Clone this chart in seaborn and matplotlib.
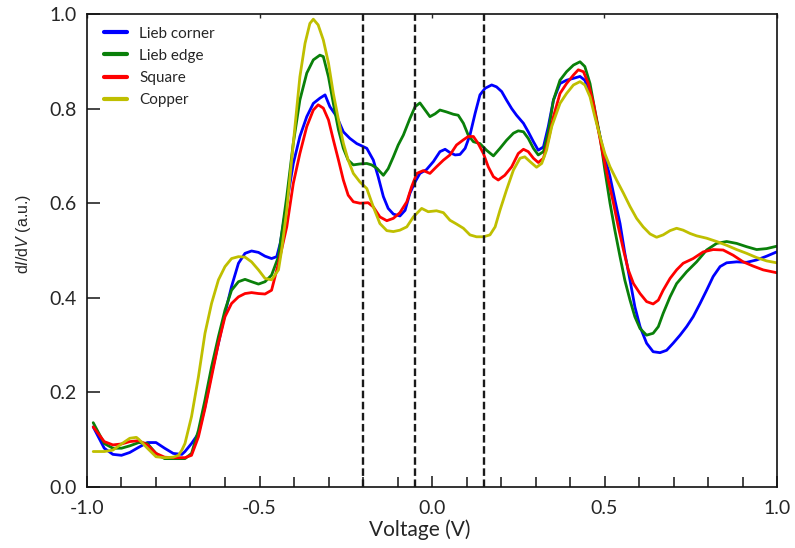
import matplotlib
matplotlib.use("Agg")
import matplotlib.pyplot as plt
from matplotlib.ticker import MultipleLocator
import seaborn as sns
import pandas as pd

# dI/dV spectra for four sites (voltage in V, conductance in a.u.)
lieb_corner_v = [-0.982, -0.950, -0.925, -0.900, -0.876, -0.850, -0.825, -0.800, -0.775, -0.750,
                 -0.725, -0.716, -0.697, -0.677, -0.658, -0.639, -0.619, -0.600, -0.581, -0.561,
                 -0.542, -0.523, -0.503, -0.484, -0.465, -0.450, -0.440, -0.421, -0.402, -0.383,
                 -0.363, -0.344, -0.325, -0.310, -0.296, -0.276, -0.257, -0.238, -0.218, -0.209,
                 -0.189, -0.170, -0.156, -0.141, -0.127, -0.112, -0.093, -0.078, -0.064, -0.049,
                 -0.035, -0.016, 0.004, 0.023, 0.038, 0.052, 0.067, 0.081, 0.096, 0.110,
                 0.125, 0.139, 0.154, 0.173, 0.187, 0.202, 0.216, 0.231, 0.245, 0.265,
                 0.279, 0.294, 0.308, 0.323, 0.337, 0.352, 0.371, 0.390, 0.410, 0.429,
                 0.443, 0.458, 0.472, 0.487, 0.501, 0.516, 0.530, 0.545, 0.559, 0.574,
                 0.588, 0.603, 0.622, 0.641, 0.661, 0.680, 0.699, 0.719, 0.738, 0.757,
                 0.777, 0.796, 0.815, 0.835, 0.854, 0.883, 0.912, 0.941, 0.970, 0.999]
lieb_corner_g = [0.127, 0.082, 0.069, 0.067, 0.073, 0.084, 0.094, 0.094, 0.082, 0.071,
                 0.069, 0.075, 0.092, 0.113, 0.170, 0.240, 0.304, 0.367, 0.424, 0.473,
                 0.494, 0.499, 0.496, 0.488, 0.483, 0.487, 0.515, 0.600, 0.684, 0.741,
                 0.783, 0.811, 0.822, 0.829, 0.804, 0.783, 0.751, 0.737, 0.726, 0.723,
                 0.716, 0.691, 0.656, 0.614, 0.589, 0.577, 0.573, 0.585, 0.621, 0.645,
                 0.663, 0.671, 0.688, 0.709, 0.714, 0.707, 0.702, 0.703, 0.716, 0.744,
                 0.790, 0.829, 0.843, 0.850, 0.846, 0.836, 0.818, 0.800, 0.786, 0.769,
                 0.751, 0.730, 0.712, 0.719, 0.762, 0.818, 0.853, 0.860, 0.864, 0.868,
                 0.860, 0.832, 0.790, 0.741, 0.698, 0.656, 0.607, 0.557, 0.494, 0.437,
                 0.381, 0.339, 0.304, 0.286, 0.284, 0.289, 0.304, 0.321, 0.339, 0.360,
                 0.388, 0.416, 0.445, 0.466, 0.474, 0.476, 0.475, 0.480, 0.488, 0.497]

lieb_edge_v = [-0.982, -0.950, -0.925, -0.900, -0.876, -0.850, -0.825, -0.800, -0.775, -0.750,
               -0.725, -0.716, -0.697, -0.677, -0.658, -0.639, -0.619, -0.600, -0.581, -0.561,
               -0.542, -0.523, -0.503, -0.484, -0.465, -0.445, -0.421, -0.402, -0.383, -0.363,
               -0.344, -0.325, -0.315, -0.300, -0.286, -0.271, -0.257, -0.243, -0.228, -0.209,
               -0.189, -0.175, -0.160, -0.141, -0.127, -0.112, -0.098, -0.083, -0.064, -0.049,
               -0.035, -0.020, -0.006, 0.009, 0.023, 0.042, 0.062, 0.076, 0.091, 0.105,
               0.120, 0.139, 0.158, 0.178, 0.197, 0.216, 0.236, 0.250, 0.265, 0.279,
               0.294, 0.308, 0.323, 0.337, 0.352, 0.371, 0.390, 0.410, 0.429, 0.443,
               0.458, 0.472, 0.487, 0.501, 0.516, 0.530, 0.545, 0.559, 0.574, 0.588,
               0.603, 0.622, 0.641, 0.656, 0.670, 0.690, 0.709, 0.738, 0.767, 0.796,
               0.825, 0.854, 0.883, 0.912, 0.941, 0.970, 0.999]
lieb_edge_g = [0.136, 0.092, 0.082, 0.082, 0.087, 0.094, 0.092, 0.071, 0.060, 0.060,
               0.060, 0.060, 0.071, 0.120, 0.184, 0.254, 0.318, 0.374, 0.416, 0.434,
               0.439, 0.434, 0.429, 0.434, 0.448, 0.487, 0.614, 0.727, 0.818, 0.875,
               0.903, 0.913, 0.910, 0.867, 0.811, 0.755, 0.716, 0.691, 0.681, 0.683,
               0.684, 0.681, 0.674, 0.659, 0.673, 0.698, 0.723, 0.744, 0.779, 0.804,
               0.812, 0.797, 0.783, 0.789, 0.797, 0.793, 0.788, 0.786, 0.769, 0.744,
               0.730, 0.726, 0.712, 0.700, 0.716, 0.733, 0.748, 0.753, 0.751, 0.737,
               0.716, 0.702, 0.709, 0.751, 0.818, 0.860, 0.878, 0.892, 0.899, 0.889,
               0.853, 0.797, 0.741, 0.670, 0.600, 0.543, 0.487, 0.437, 0.395, 0.360,
               0.335, 0.321, 0.325, 0.339, 0.367, 0.402, 0.430, 0.455, 0.476, 0.501,
               0.515, 0.519, 0.515, 0.508, 0.502, 0.504, 0.509]

square_v = [-0.982, -0.950, -0.925, -0.900, -0.876, -0.850, -0.825, -0.800, -0.775, -0.750,
            -0.725, -0.716, -0.697, -0.677, -0.658, -0.639, -0.619, -0.600, -0.581, -0.561,
            -0.542, -0.523, -0.503, -0.484, -0.465, -0.445, -0.421, -0.402, -0.383, -0.363,
            -0.344, -0.330, -0.315, -0.300, -0.286, -0.271, -0.257, -0.243, -0.228, -0.209,
            -0.185, -0.170, -0.151, -0.131, -0.112, -0.093, -0.073, -0.059, -0.044, -0.025,
            -0.006, 0.013, 0.033, 0.052, 0.071, 0.091, 0.105, 0.120, 0.134, 0.149,
            0.163, 0.178, 0.192, 0.211, 0.231, 0.250, 0.265, 0.279, 0.294, 0.308,
            0.323, 0.337, 0.352, 0.371, 0.390, 0.410, 0.424, 0.439, 0.453, 0.468,
            0.482, 0.497, 0.511, 0.526, 0.540, 0.555, 0.569, 0.584, 0.603, 0.622,
            0.641, 0.656, 0.670, 0.690, 0.709, 0.728, 0.757, 0.786, 0.815, 0.844,
            0.873, 0.902, 0.931, 0.960, 0.999]
square_g = [0.127, 0.096, 0.089, 0.091, 0.096, 0.098, 0.089, 0.071, 0.063, 0.062,
            0.062, 0.062, 0.067, 0.106, 0.166, 0.233, 0.304, 0.360, 0.388, 0.402,
            0.409, 0.411, 0.409, 0.408, 0.416, 0.473, 0.550, 0.642, 0.705, 0.762,
            0.797, 0.808, 0.801, 0.776, 0.734, 0.691, 0.649, 0.617, 0.603, 0.600,
            0.601, 0.592, 0.571, 0.563, 0.568, 0.580, 0.603, 0.635, 0.663, 0.669,
            0.663, 0.677, 0.691, 0.702, 0.723, 0.734, 0.741, 0.741, 0.726, 0.705,
            0.677, 0.656, 0.649, 0.659, 0.677, 0.705, 0.714, 0.709, 0.695, 0.686,
            0.695, 0.733, 0.783, 0.832, 0.853, 0.871, 0.882, 0.878, 0.853, 0.811,
            0.755, 0.698, 0.649, 0.600, 0.550, 0.501, 0.459, 0.430, 0.409, 0.392,
            0.387, 0.395, 0.416, 0.441, 0.459, 0.473, 0.483, 0.497, 0.502, 0.501,
            0.490, 0.476, 0.467, 0.459, 0.453]

copper_v = [-0.982, -0.950, -0.925, -0.900, -0.876, -0.857, -0.850, -0.825, -0.800, -0.775,
            -0.750, -0.735, -0.725, -0.716, -0.697, -0.677, -0.658, -0.639, -0.619, -0.600,
            -0.581, -0.561, -0.542, -0.523, -0.503, -0.484, -0.465, -0.445, -0.436, -0.421,
            -0.402, -0.383, -0.368, -0.354, -0.344, -0.330, -0.315, -0.300, -0.286, -0.271,
            -0.257, -0.243, -0.228, -0.209, -0.189, -0.170, -0.151, -0.131, -0.112, -0.093,
            -0.073, -0.054, -0.030, -0.011, 0.013, 0.033, 0.052, 0.071, 0.091, 0.110,
            0.129, 0.149, 0.168, 0.183, 0.197, 0.216, 0.236, 0.255, 0.269, 0.284,
            0.303, 0.318, 0.332, 0.347, 0.371, 0.390, 0.410, 0.429, 0.443, 0.458,
            0.472, 0.487, 0.501, 0.516, 0.535, 0.555, 0.574, 0.593, 0.612, 0.632,
            0.651, 0.670, 0.690, 0.709, 0.728, 0.748, 0.767, 0.796, 0.825, 0.854,
            0.883, 0.912, 0.941, 0.970, 0.999]
copper_g = [0.075, 0.075, 0.078, 0.091, 0.103, 0.105, 0.101, 0.082, 0.064, 0.062,
            0.063, 0.067, 0.078, 0.092, 0.149, 0.233, 0.325, 0.388, 0.438, 0.466,
            0.483, 0.487, 0.486, 0.476, 0.459, 0.441, 0.438, 0.459, 0.500, 0.586,
            0.727, 0.867, 0.938, 0.980, 0.989, 0.977, 0.945, 0.896, 0.832, 0.776,
            0.727, 0.691, 0.663, 0.645, 0.631, 0.592, 0.557, 0.542, 0.540, 0.543,
            0.550, 0.571, 0.589, 0.582, 0.584, 0.580, 0.564, 0.556, 0.547, 0.533,
            0.529, 0.529, 0.533, 0.550, 0.585, 0.628, 0.670, 0.695, 0.698, 0.688,
            0.676, 0.684, 0.712, 0.762, 0.811, 0.832, 0.850, 0.857, 0.850, 0.825,
            0.783, 0.741, 0.705, 0.677, 0.649, 0.621, 0.593, 0.568, 0.550, 0.535,
            0.528, 0.533, 0.542, 0.547, 0.543, 0.536, 0.531, 0.526, 0.519, 0.511,
            0.502, 0.494, 0.485, 0.478, 0.474]

series_names = ["Lieb corner", "Lieb edge", "Square", "Copper"]
series_colors = ["#0000ff", "#0a800a", "#ff0000", "#bfbf00"]
marker_voltages = [-0.2, -0.05, 0.15]
x_ticks = [-1.0, -0.5, 0.0, 0.5, 1.0]
y_ticks = [0.0, 0.2, 0.4, 0.6, 0.8, 1.0]

sns.set_style("ticks")
plt.rcParams["font.family"] = ["Lato", "DejaVu Sans"]
plt.rcParams["mathtext.fontset"] = "custom"
plt.rcParams["mathtext.it"] = "Liberation Sans:italic"
plt.rcParams["mathtext.rm"] = "Liberation Sans"

fig = plt.figure(figsize=(7.95, 5.48), dpi=100)
ax = fig.add_axes([87 / 795, 1 - 487 / 548, 690 / 795, 473 / 548])

frames = []
for name, v, g in zip(series_names,
                      [lieb_corner_v, lieb_edge_v, square_v, copper_v],
                      [lieb_corner_g, lieb_edge_g, square_g, copper_g]):
    frames.append(pd.DataFrame({"Voltage": v, "dIdV": g, "site": name}))
data = pd.concat(frames, ignore_index=True)

sns.lineplot(data=data, x="Voltage", y="dIdV", hue="site", hue_order=series_names,
             palette=series_colors, estimator=None, sort=False, linewidth=2.0, ax=ax)

for xv in marker_voltages:
    ax.axvline(xv, color="#1a1a1a", linewidth=1.7, linestyle=(0, (3.2, 1.5)), zorder=5)

ax.set_xlim(-1.0, 1.0)
ax.set_ylim(0.0, 1.0)
ax.set_xticks(x_ticks)
ax.set_xticklabels([f"{t:.1f}" for t in x_ticks])
ax.set_yticks(y_ticks)
ax.set_yticklabels([f"{t:.1f}" for t in y_ticks])
ax.xaxis.set_minor_locator(MultipleLocator(0.1))
ax.tick_params(axis="x", which="major", direction="in", length=8, width=1.2,
               labelsize=14, pad=9, top=False)
ax.tick_params(axis="x", which="minor", direction="in", length=7, width=1.2, top=False)
ax.tick_params(axis="y", which="major", direction="in", length=9, width=1.2,
               labelsize=14, pad=7.5, right=False)
for side in ["left", "bottom", "top", "right"]:
    ax.spines[side].set_visible(True)
    ax.spines[side].set_linewidth(1.2)
    ax.spines[side].set_color("#111111")

# short inward marks along the top edge at the major voltages
top = ax.secondary_xaxis("top")
top.set_xticks(x_ticks)
top.tick_params(direction="in", length=3, width=1.0, labeltop=False)
top.spines["top"].set_visible(False)

ax.set_xlabel("Voltage (V)", fontsize=15)
ax.xaxis.set_label_coords((420 - 87) / 690, (487 - 519) / 473)
ax.set_ylabel(r"d$\mathit{I}$/d$\mathit{V}$ (a.u.)", fontsize=11.5,
              fontfamily="Liberation Sans")
ax.yaxis.set_label_coords((33 - 87) / 690, (487 - 234) / 473)

leg = ax.legend(loc="upper left", frameon=False, fontsize=11, handlelength=1.5,
                handletextpad=0.8, labelspacing=0.53, borderaxespad=0.0,
                bbox_to_anchor=(0.0158, 0.986))
for line in leg.get_lines():
    line.set_linewidth(3.0)

fig.savefig("out.png", dpi=100)
